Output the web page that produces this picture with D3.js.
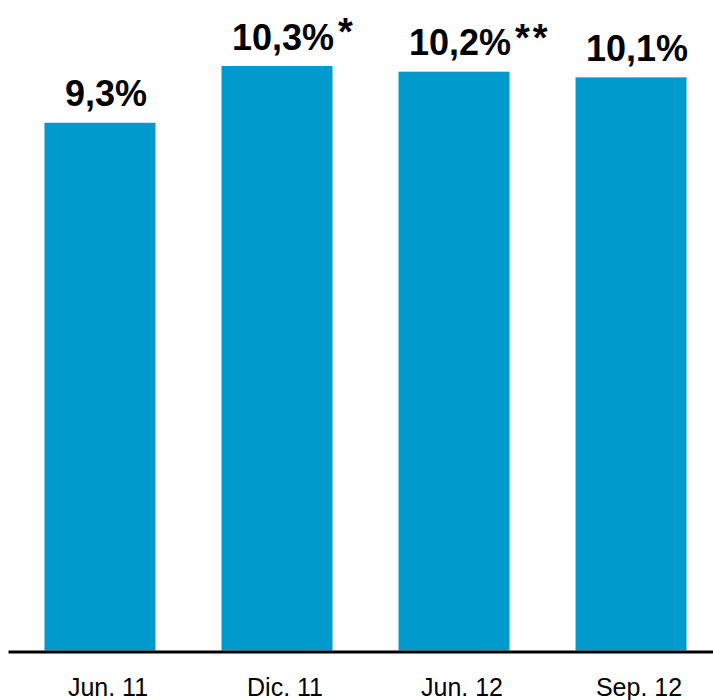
<!DOCTYPE html>
<html>
<head>
<meta charset="utf-8">
<script src="https://cdn.jsdelivr.net/npm/d3@7"></script>
<style>
  html, body { margin: 0; padding: 0; background: #fff; }
  svg { display: block; }
</style>
</head>
<body>
<svg id="chart" width="713" height="700"></svg>
<script>
const categories = ["Jun. 11", "Dic. 11", "Jun. 12", "Sep. 12"];
const values = [9.3, 10.3, 10.2, 10.1];
const notes = ["", "*", "**", ""];

const svg = d3.select("#chart");
const baseY = 650.5;

const x = d3.scaleBand()
  .domain(categories)
  .range([8, 723])
  .paddingInner(0.373)
  .paddingOuter(0.206);

const y = d3.scaleLinear()
  .domain([0, 10.3])
  .range([baseY, 66]);

const fmt = v => v.toFixed(1).replace(".", ",") + "%";

svg.append("g")
  .selectAll("rect")
  .data(values)
  .join("rect")
  .attr("x", (d, i) => x(categories[i]))
  .attr("y", d => y(d))
  .attr("width", x.bandwidth())
  .attr("height", d => baseY - y(d))
  .attr("fill", "#009ACD");

svg.append("g")
  .selectAll("text")
  .data(values)
  .join("text")
  .attr("x", (d, i) => x(categories[i]) + x.bandwidth() / 2 + 6)
  .attr("y", d => y(d) - 16.5)
  .attr("text-anchor", "middle")
  .attr("font-family", "Liberation Sans, Arial, sans-serif")
  .attr("font-weight", "bold")
  .attr("font-size", 36)
  .attr("fill", "#000")
  .text(d => fmt(d));

// superscript notes
svg.append("g")
  .selectAll("text")
  .data(values)
  .join("text")
  .attr("x", (d, i) => x(categories[i]) + x.bandwidth() / 2 + 61)
  .attr("y", d => y(d) - 21)
  .attr("text-anchor", "start")
  .attr("font-family", "Liberation Sans, Arial, sans-serif")
  .attr("font-weight", "bold")
  .attr("font-size", 38)
  .attr("letter-spacing", 3)
  .attr("fill", "#000")
  .text((d, i) => notes[i]);

const axis = d3.axisBottom(x).tickSize(0).tickPadding(27);
const gx = svg.append("g")
  .attr("transform", `translate(0,${baseY + 1})`)
  .call(axis);
gx.select(".domain").attr("stroke", "#000").attr("stroke-width", 3);
gx.selectAll(".tick text")
  .attr("dx", 8)
  .attr("font-family", "Liberation Sans, Arial, sans-serif")
  .attr("font-size", 25)
  .attr("fill", "#000");
</script>
</body>
</html>
